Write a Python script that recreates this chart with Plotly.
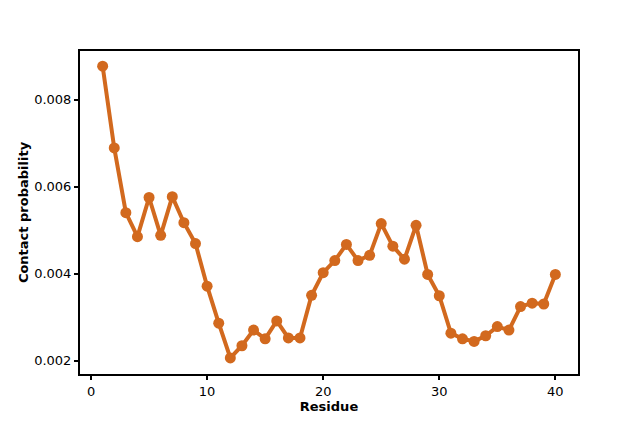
import plotly.graph_objects as go

# residue index and contact probability
residue = list(range(1, 41))
contact_prob = [
    0.00877, 0.00689, 0.00540, 0.00485, 0.00575, 0.00488, 0.00577, 0.00517, 0.00469, 0.00371,
    0.00286, 0.00206, 0.00234, 0.00270, 0.00250, 0.00291, 0.00252, 0.00252, 0.00350, 0.00402,
    0.00430, 0.00467, 0.00430, 0.00442, 0.00515, 0.00463, 0.00433, 0.00511, 0.00398, 0.00349,
    0.00263, 0.00250, 0.00244, 0.00257, 0.00278, 0.00270, 0.00324, 0.00332, 0.00330, 0.00398,
]
x_ticks = [0, 10, 20, 30, 40]
y_ticks = [0.002, 0.004, 0.006, 0.008]

color = '#D2691E'

trace = go.Scatter(
    x=residue,
    y=contact_prob,
    mode='lines+markers',
    line=dict(color=color, width=4),
    marker=dict(color=color, size=11),
    showlegend=False
)

axis_common = dict(
    showline=True,
    linecolor='black',
    linewidth=2,
    mirror=True,
    ticks='outside',
    ticklen=4,
    tickwidth=1.5,
    tickcolor='black',
    showgrid=False,
    zeroline=False,
    tickfont=dict(family='DejaVu Sans', size=13, color='black'),
)

# page body has an 8px margin, so the figure is a bit smaller and shifted
layout = go.Layout(
    width=635,
    height=420,
    margin=dict(l=72, r=65, t=43, b=54),
    plot_bgcolor='white',
    paper_bgcolor='white',
    xaxis=dict(
        axis_common,
        range=[-0.95, 41.95],
        tickvals=x_ticks,
        title=dict(text='<b>Residue</b>', standoff=1,
                   font=dict(family='DejaVu Sans', size=13, color='black')),
    ),
    yaxis=dict(
        axis_common,
        range=[0.00169, 0.00912],
        tickvals=y_ticks,
        tickformat='.3f',
        title=dict(text='<b>Contact probability</b>', standoff=3,
                   font=dict(family='DejaVu Sans', size=13, color='black')),
    ),
)

fig = go.Figure(data=[trace], layout=layout)
fig.write_html("out.html")
